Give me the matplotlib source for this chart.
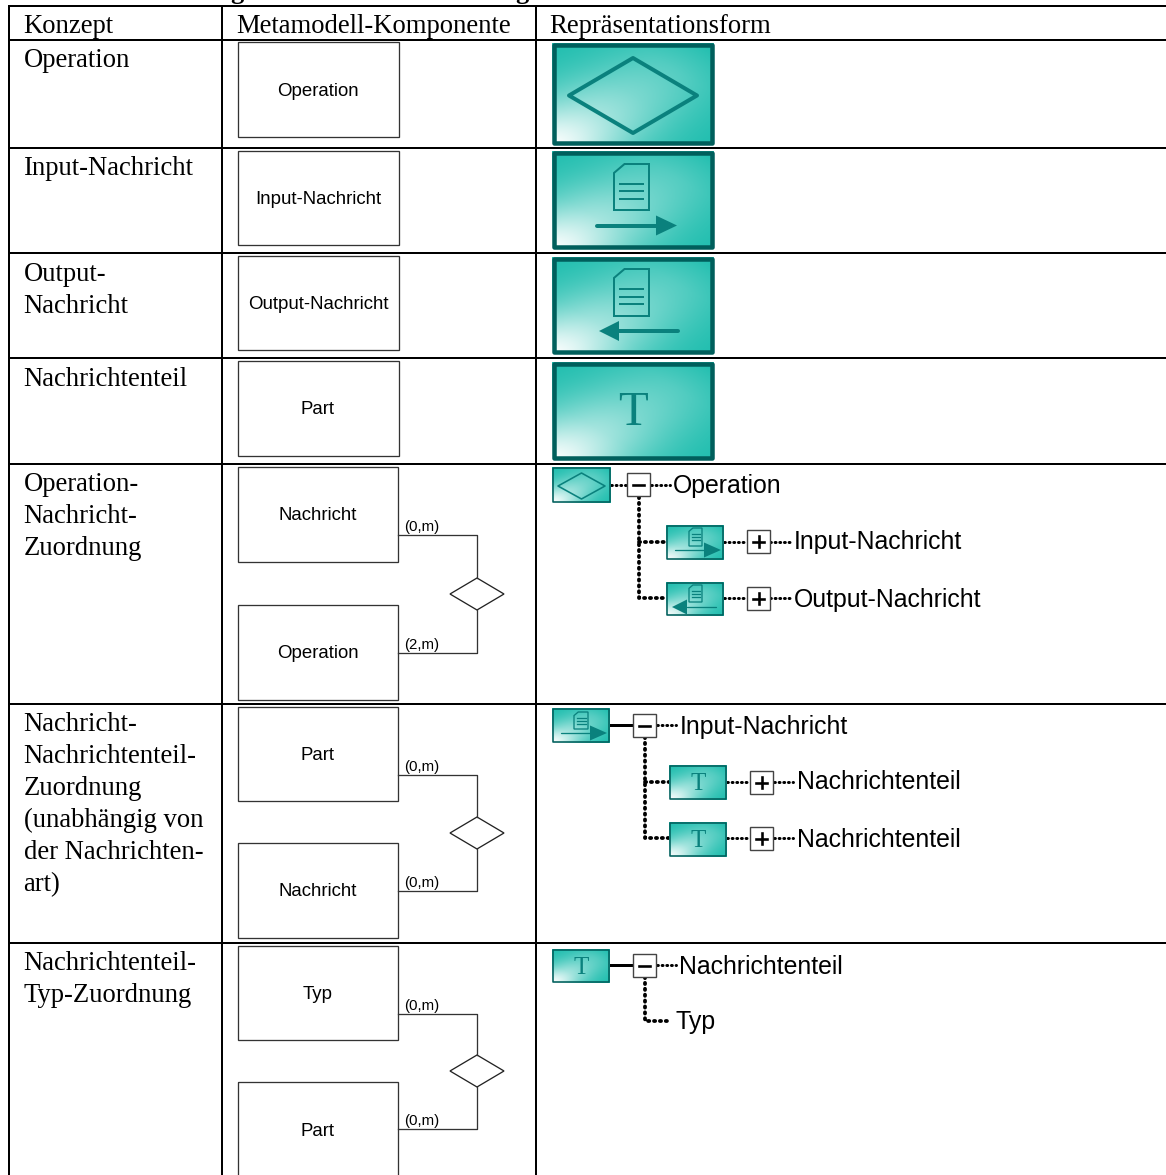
import numpy as np
import matplotlib
matplotlib.use('Agg')
import matplotlib.pyplot as plt
from matplotlib.patches import Rectangle, Polygon

# table content
headers = ['Konzept', 'Metamodell-Komponente', 'Repräsentationsform']
concepts = [
    ['Operation'],
    ['Input-Nachricht'],
    ['Output-', 'Nachricht'],
    ['Nachrichtenteil'],
    ['Operation-', 'Nachricht-', 'Zuordnung'],
    ['Nachricht-', 'Nachrichtenteil-', 'Zuordnung', '(unabhängig von', 'der Nachrichten-', 'art)'],
    ['Nachrichtenteil-', 'Typ-Zuordnung'],
]
concept_baselines = [67, 175, 281, 386, 491, 731, 970]
single_labels = ['Operation', 'Input-Nachricht', 'Output-Nachricht', 'Part']
relation_labels = [('Nachricht', 'Operation'), ('Part', 'Nachricht'), ('Typ', 'Part')]
cardinalities = [('(0,m)', '(2,m)'), ('(0,m)', '(0,m)'), ('(0,m)', '(0,m)')]

# table grid, in picture pixels
row_lines = [5.5, 40, 147.5, 252.5, 357.5, 463.5, 704, 942.5]
col_lines = [8.5, 222, 535.5]

single_boxes = [(42, 137), (151, 245), (256, 350), (361, 456)]
relation_boxes = [((467, 562), (605, 700)), ((707, 801), (843, 938)), ((946, 1040), (1082, 1185))]
relation_lines = [(535, 653), (775, 891), (1014, 1129)]
diamond_centers = [594, 833, 1071]

big_icons = [(43, 145), (151, 249), (257, 354), (362, 460)]

SERIF = 'Liberation Serif'
SANS = 'Liberation Sans'
BORDER = '#005f5c'
SYMBOL = '#0a817d'
SERIF_SIZE = 19.2
TREE_SIZE = 17.9
BOX_SIZE = 13.4


def px(n):
    return n * 72 / 100


def icon_gradient(w, h):
    u, v = np.meshgrid(np.linspace(0, 1, w), np.linspace(1, 0, h))
    s = (u + v) / 2
    p = u - v
    light = np.exp(-(p / 0.6) ** 2) * np.interp(s, [0, 0.12, 0.3, 0.5, 0.75, 1], [1, 0.85, 0.6, 0.42, 0.25, 0])
    teal = np.array([0.11, 0.74, 0.68])
    white = np.array([1.0, 1.0, 1.0])
    return teal + light[..., None] * (white - teal)


def draw_icon(ax, x0, y0, x1, y1, lw):
    ax.imshow(icon_gradient(int(x1 - x0), int(y1 - y0)), extent=(x0, x1, y1, y0), aspect='auto', zorder=2)
    ax.add_patch(Rectangle((x0 + lw / 2, y0 + lw / 2), x1 - x0 - lw, y1 - y0 - lw, fill=False,
                           ec=BORDER, lw=px(lw), joinstyle='round', zorder=3))


def draw_doc(ax, x0, y0, x1, y1, lw, line_ys, inset):
    cut = (x1 - x0) * 0.3
    ax.add_patch(Polygon([(x0 + cut, y0), (x1, y0), (x1, y1), (x0, y1), (x0, y0 + cut * 0.85)], closed=True,
                         fill=False, ec=SYMBOL, lw=px(lw), zorder=4))
    for y in line_ys:
        ax.plot([x0 + inset, x1 - inset], [y, y], color=SYMBOL, lw=px(lw), zorder=4)


def draw_arrow(ax, tail, base, tip, y, half, lw):
    ax.plot([tail, base], [y, y], color=SYMBOL, lw=px(lw), solid_capstyle='round', zorder=4)
    ax.add_patch(Polygon([(base, y - half), (tip, y), (base, y + half)], closed=True, fc=SYMBOL, ec='none', zorder=4))


def draw_diamond(ax, x0, x1, y0, y1, lw):
    xm = (x0 + x1) / 2
    ym = (y0 + y1) / 2
    ax.add_patch(Polygon([(x0, ym), (xm, y0), (x1, ym), (xm, y1)], closed=True, fill=False,
                         ec=SYMBOL, lw=px(lw), joinstyle='round', zorder=4))


def dotted(ax, xs, ys, lw=3):
    ax.plot(xs, ys, color='black', lw=px(lw), linestyle=(0, (0.3, 1.25)), dash_capstyle='round',
            solid_joinstyle='round', zorder=2)


def toggle(ax, x, y, sign):
    ax.add_patch(Rectangle((x, y), 23, 23, fc='white', ec='#444444', lw=px(1.4), zorder=5))
    ax.plot([x + 6, x + 17], [y + 11.5, y + 11.5], color='black', lw=px(2.6), zorder=6)
    if sign == '+':
        ax.plot([x + 11.5, x + 11.5], [y + 6, y + 17], color='black', lw=px(2.6), zorder=6)


def tree_text(ax, x, y, label):
    ax.text(x, y, label, family=SANS, fontsize=TREE_SIZE, va='center', ha='left', color='black', zorder=6)


fig = plt.figure(figsize=(11.66, 11.75), dpi=100)
ax = fig.add_axes([0, 0, 1, 1])

# clipped caption line above the table
ax.text(230, -1, 'g', family=SERIF, fontweight='bold', fontsize=19, va='baseline')
ax.text(515, -1, 'g', family=SERIF, fontweight='bold', fontsize=19, va='baseline')

# grid
for y in row_lines:
    ax.plot([8, 1166], [y, y], color='black', lw=px(2), solid_capstyle='butt', zorder=1)
for x in col_lines:
    ax.plot([x, x], [row_lines[0], 1175], color='black', lw=px(2), solid_capstyle='butt', zorder=1)

# first column and header
text_x = [23.5, 236.5, 549.5]
for x, label in zip(text_x, headers):
    ax.text(x, 33, label, family=SERIF, fontsize=SERIF_SIZE, va='baseline')
for lines, base in zip(concepts, concept_baselines):
    for i, line in enumerate(lines):
        ax.text(23.5, base + 32 * i, line, family=SERIF, fontsize=SERIF_SIZE, va='baseline')

# metamodel column
for (y0, y1), label in zip(single_boxes, single_labels):
    ax.add_patch(Rectangle((238, y0), 161, y1 - y0, fill=False, ec='#333333', lw=px(1.3)))
    ax.text(318, (y0 + y1) / 2 + 1.5, label, family=SANS, fontsize=BOX_SIZE, ha='center', va='center')

for boxes, names, cards, ys, dy in zip(relation_boxes, relation_labels, cardinalities, relation_lines, diamond_centers):
    for (y0, y1), name in zip(boxes, names):
        ax.add_patch(Rectangle((238, y0), 160, y1 - y0, fill=False, ec='#333333', lw=px(1.3)))
        ax.text(318, (y0 + min(y1, y0 + 95)) / 2 + 1.5, name, family=SANS, fontsize=BOX_SIZE, ha='center', va='center')
    ax.plot([398, 477, 477], [ys[0], ys[0], dy - 16], color='#333333', lw=px(1.3))
    ax.plot([398, 477, 477], [ys[1], ys[1], dy + 16], color='#333333', lw=px(1.3))
    ax.add_patch(Polygon([(450, dy), (477, dy - 16), (504, dy), (477, dy + 16)], closed=True,
                         fc='white', ec='#222222', lw=px(1.3)))
    ax.text(404.5, ys[0] - 1, cards[0], family=SANS, fontsize=10.8, va='bottom')
    ax.text(404.5, ys[1] - 1, cards[1], family=SANS, fontsize=10.8, va='bottom')

# large icons
for y0, y1 in big_icons:
    draw_icon(ax, 552, y0, 714, y1, 4.5)
draw_diamond(ax, 569, 697, 58, 133, 4)
draw_doc(ax, 614, 164, 649, 210, 2, [184, 191, 199], 6)
draw_arrow(ax, 597, 656, 677, 225.5, 10, 4)
draw_doc(ax, 614, 269, 649, 316, 2, [289, 297, 304], 6)
draw_arrow(ax, 678, 619, 599, 331, 10, 4)
ax.text(633, 413, 'T', family=SERIF, fontsize=35, color=SYMBOL, ha='center', va='center', zorder=4)

# tree: operation
dotted(ax, [611, 627], [485, 485])
dotted(ax, [651, 670], [485, 485])
dotted(ax, [639, 639, 666], [497, 598, 598], 3.8)
dotted(ax, [639, 666], [542, 542], 3.8)
dotted(ax, [724, 747], [542, 542])
dotted(ax, [770, 790], [542, 542])
dotted(ax, [724, 747], [598, 598])
dotted(ax, [770, 790], [598, 598])
draw_icon(ax, 552, 467, 611, 503, 1.6)
draw_diamond(ax, 558, 605, 473, 499, 1.6)
toggle(ax, 627, 473, '-')
draw_icon(ax, 666, 525, 724, 560, 1.6)
draw_doc(ax, 689, 528, 702, 546, 1.3, [534, 537, 540], 2.5)
draw_arrow(ax, 675, 704, 721, 550, 7.5, 1.3)
toggle(ax, 747, 530, '+')
draw_icon(ax, 666, 582, 724, 616, 1.6)
draw_doc(ax, 689, 585, 702, 602, 1.3, [591, 594, 597], 2.5)
draw_arrow(ax, 716, 687, 672, 607, 7.5, 1.3)
toggle(ax, 747, 587, '+')
tree_text(ax, 673, 486, 'Operation')
tree_text(ax, 794, 542, 'Input-Nachricht')
tree_text(ax, 794, 600, 'Output-Nachricht')

# tree: message parts
ax.plot([610, 633], [725, 725], color='black', lw=px(3))
dotted(ax, [657, 676], [725, 725])
dotted(ax, [645, 645, 669], [737, 838, 838], 3.8)
dotted(ax, [645, 669], [782, 782], 3.8)
dotted(ax, [727, 750], [782, 782])
dotted(ax, [774, 793], [782, 782])
dotted(ax, [727, 750], [838, 838])
dotted(ax, [774, 793], [838, 838])
draw_icon(ax, 552, 708, 610, 743, 1.6)
draw_doc(ax, 574, 712, 588, 729, 1.3, [718, 721, 724], 2.5)
draw_arrow(ax, 561, 590, 607, 733, 7.5, 1.3)
toggle(ax, 633, 714, '-')
for y0 in [765, 822]:
    draw_icon(ax, 669, y0, 727, y0 + 35, 1.6)
    ax.text(698, y0 + 19, 'T', family=SERIF, fontsize=18, color=SYMBOL, ha='center', va='center', zorder=4)
toggle(ax, 750, 771, '+')
toggle(ax, 750, 827, '+')
tree_text(ax, 680, 727, 'Input-Nachricht')
tree_text(ax, 797, 782, 'Nachrichtenteil')
tree_text(ax, 797, 840, 'Nachrichtenteil')

# tree: type
ax.plot([610, 633], [965, 965], color='black', lw=px(3))
dotted(ax, [657, 676], [965, 965])
dotted(ax, [645, 645, 668], [977, 1021, 1021], 3.8)
draw_icon(ax, 552, 949, 610, 983, 1.6)
ax.text(581, 968, 'T', family=SERIF, fontsize=18, color=SYMBOL, ha='center', va='center', zorder=4)
toggle(ax, 633, 954, '-')
tree_text(ax, 679, 967, 'Nachrichtenteil')
tree_text(ax, 675, 1022, 'Typ')

ax.set_xlim(0, 1166)
ax.set_ylim(1175, 0)
ax.axis('off')
fig.savefig('out.png', dpi=100, facecolor='white')
